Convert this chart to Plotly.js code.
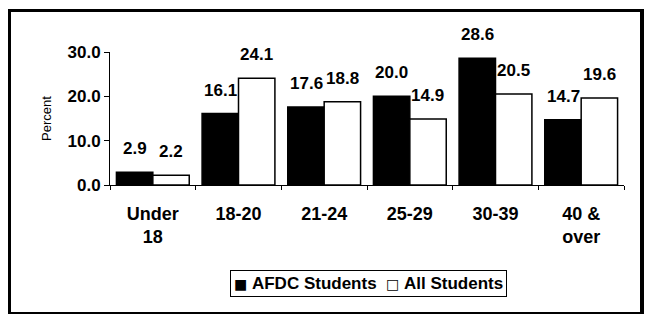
<!DOCTYPE html>
<html>
<head>
<meta charset="utf-8">
<script src="https://cdn.plot.ly/plotly-3.0.1.min.js"></script>
<style>
  html, body { margin: 0; padding: 0; background: #fff; }
  #wrap { position: relative; width: 648px; height: 316px; }
  #chart { position: absolute; left: 0; top: 0; width: 648px; height: 316px; }
  #frame { position: absolute; left: 8px; top: 9px; width: 629px; height: 300px;
           border-left: 3px solid #000; border-top: 3px solid #000;
           border-right: 4px solid #000; border-bottom: 2px solid #000;
           pointer-events: none; }
</style>
</head>
<body>
<div id="wrap">
  <div id="chart"></div>
  <div id="frame"></div>
</div>
<script>
const categories = ["Under<br>18", "18-20", "21-24", "25-29", "30-39", "40 &<br>over"];
const afdcValues = [2.9, 16.1, 17.6, 20.0, 28.6, 14.7];
const allValues = [2.2, 24.1, 18.8, 14.9, 20.5, 19.6];
const seriesNames = ["AFDC Students", "All Students"];
const yTicks = [0, 10, 20, 30];

const FONT = "Liberation Sans, Arial, sans-serif";

const traces = [
  {
    type: "bar", name: seriesNames[0], x: categories, y: afdcValues,
    marker: { color: "#000000", line: { color: "#000000", width: 1.5 } }
  },
  {
    type: "bar", name: seriesNames[1], x: categories, y: allValues,
    marker: { color: "#ffffff", line: { color: "#000000", width: 1.5 } }
  }
];

const annotations = [];
afdcValues.forEach((v, i) => annotations.push({
  x: categories[i], y: v, xref: "x", yref: "y", text: v.toFixed(1),
  showarrow: false, xshift: -18, yshift: 12, yanchor: "bottom",
  font: { family: FONT, size: 17, color: "#000", weight: "bold" }
}));
allValues.forEach((v, i) => annotations.push({
  x: categories[i], y: v, xref: "x", yref: "y", text: v.toFixed(1),
  showarrow: false, xshift: 18, yshift: 12, yanchor: "bottom",
  font: { family: FONT, size: 17, color: "#000", weight: "bold" }
}));
// legend box built as text
const sq = (ch) => "<span style='font-family:DejaVu Sans;font-size:14px'>" + ch + "</span>";
annotations.push({
  xref: "paper", yref: "paper", x: 0.503, y: -0.64, xanchor: "center", yanchor: "top",
  showarrow: false,
  text: sq("■") + "\u00a0" + seriesNames[0] + "\u00a0\u00a0" + sq("□") + "\u00a0" + seriesNames[1],
  font: { family: FONT, size: 17, color: "#000", weight: "bold" },
  bordercolor: "#000", borderwidth: 1, borderpad: 3, bgcolor: "#fff"
});

const layout = {
  width: 648, height: 316,
  margin: { l: 110, r: 24, t: 52, b: 131, pad: 0 },
  paper_bgcolor: "#ffffff", plot_bgcolor: "#ffffff",
  font: { family: FONT, size: 17, color: "#000", weight: "bold" },
  barmode: "group", bargap: 0.15, bargroupgap: 0,
  showlegend: false,
  xaxis: {
    type: "category", showline: true, linecolor: "#000", linewidth: 1,
    ticks: "outside", ticklen: 4, tickcolor: "#000", tickson: "boundaries",
    showgrid: false, zeroline: false, ticklabelstandoff: 12,
    tickfont: { family: FONT, size: 18, color: "#000", weight: "bold" }
  },
  yaxis: {
    range: [0, 30], tickvals: yTicks, tickformat: ".1f",
    showline: true, linecolor: "#000", linewidth: 1,
    ticks: "outside", ticklen: 5, tickcolor: "#000",
    showgrid: false, zeroline: false,
    tickfont: { family: FONT, size: 17, color: "#000", weight: "bold" },
    title: { text: "Percent", standoff: 12,
             font: { family: "Liberation Sans Narrow, Arial Narrow, Liberation Sans, sans-serif", size: 13, color: "#000", weight: "normal" } }
  },
  annotations: annotations
};

Plotly.newPlot("chart", traces, layout, { displayModeBar: false, staticPlot: true });
</script>
</body>
</html>
